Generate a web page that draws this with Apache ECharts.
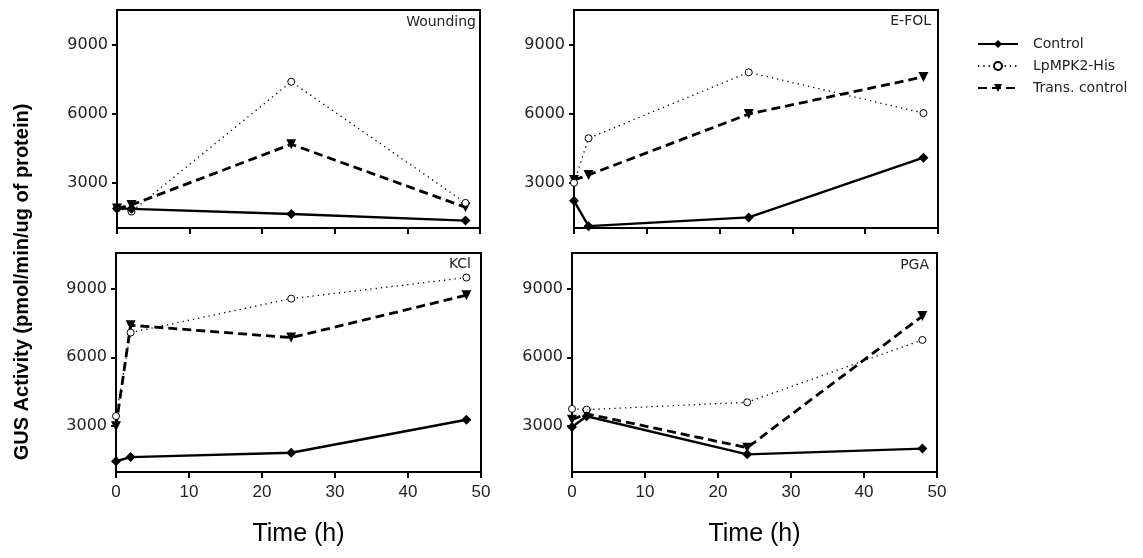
<!DOCTYPE html>
<html>
<head>
<meta charset="utf-8">
<script src="https://cdn.jsdelivr.net/npm/echarts@6/dist/echarts.min.js"></script>
<style>html,body{margin:0;padding:0;background:#fff}#c{width:1143px;height:558px}</style>
</head>
<body>
<div id="c"></div>
<script>
// ---- data ----
const hours = [0, 2, 24, 48];
const seriesNames = ['Control', 'LpMPK2-His', 'Trans. control'];
const panelTitles = ['Wounding', 'E-FOL', 'KCl', 'PGA'];
const xTicks = [0, 10, 20, 30, 40, 50];
const yTicks = [3000, 6000, 9000];

const woundControl = [1900, 1880, 1660, 1370];
const woundLpMPK2  = [1900, 1760, 7390, 2140];
const woundTrans   = [1900, 2050, 4680, 1950];

const efolControl = [2230, 1130, 1510, 4100];
const efolLpMPK2  = [3010, 4940, 7800, 6030];
const efolTrans   = [3130, 3350, 5990, 7600];

const kclControl = [1470, 1650, 1840, 3280];
const kclLpMPK2  = [3440, 7080, 8560, 9480];
const kclTrans   = [2990, 7400, 6860, 8710];

const pgaControl = [2960, 3430, 1770, 2020];
const pgaLpMPK2  = [3750, 3720, 4040, 6760];
const pgaTrans   = [3280, 3540, 2060, 7800];

const panels = [
  [woundControl, woundLpMPK2, woundTrans],
  [efolControl, efolLpMPK2, efolTrans],
  [kclControl, kclLpMPK2, kclTrans],
  [pgaControl, pgaLpMPK2, pgaTrans]
];

// ---- layout / style ----
const grids = [
  {left: 117, top: 10, width: 363, height: 218},
  {left: 574, top: 10, width: 364, height: 218},
  {left: 116, top: 253, width: 365, height: 219},
  {left: 572, top: 253, width: 365, height: 219}
];
const yRanges = [[1050, 10500], [1050, 10500], [1000, 10550], [1000, 10550]];
const titlePos = [[476, 22], [931, 21], [471, 264], [929, 265]];

const styles = [
  {symbol: 'diamond', symbolSize: 10, symbolRotate: 0,
   itemStyle: {color: '#000', borderColor: '#000', borderWidth: 0},
   lineStyle: {color: '#000', width: 2.4, type: 'solid'}},
  {symbol: 'circle', symbolSize: 7, symbolRotate: 0,
   itemStyle: {color: '#fff', borderColor: '#000', borderWidth: 1},
   lineStyle: {color: '#000', width: 1.3, type: [1.3, 4]}},
  {symbol: 'triangle', symbolSize: 10, symbolRotate: 180,
   itemStyle: {color: '#000', borderColor: '#000', borderWidth: 0},
   lineStyle: {color: '#000', width: 2.8, type: [9, 5]}}
];

const labelFont = 'DejaVu Sans';
const xAxes = [], yAxes = [], series = [], graphics = [];

grids.forEach((g, i) => {
  const bottomRow = i >= 2;
  xAxes.push({
    type: 'value', gridIndex: i, min: 0, max: 50, interval: 10,
    axisLine: {show: true, lineStyle: {color: '#000', width: 2}},
    axisTick: {show: true, inside: false, length: 6, lineStyle: {color: '#000', width: 2}},
    splitLine: {show: false},
    axisLabel: {show: bottomRow, margin: 12, color: '#222', fontSize: 17,
      fontFamily: 'Liberation Sans Narrow, Liberation Sans, Arial'},
    name: bottomRow ? 'Time (h)' : '', nameLocation: 'middle', nameGap: 50,
    nameTextStyle: {fontSize: 25, color: '#000', fontFamily: 'Liberation Sans Narrow, Liberation Sans, Arial'}
  });
  yAxes.push({
    type: 'value', gridIndex: i, min: yRanges[i][0], max: yRanges[i][1],
    axisLine: {show: true, lineStyle: {color: '#000', width: 2}},
    axisTick: {show: true, length: 5, customValues: yTicks, lineStyle: {color: '#000', width: 2}},
    axisLabel: {show: true, customValues: yTicks, margin: 9, color: '#222', fontSize: 16, fontFamily: labelFont,
      formatter: v => String(v)},
    splitLine: {show: false}
  });
  panels[i].forEach((vals, s) => {
    const st = styles[s];
    series.push({
      name: seriesNames[s], type: 'line', xAxisIndex: i, yAxisIndex: i,
      data: hours.map((h, k) => [h, vals[k]]),
      symbol: st.symbol, symbolSize: st.symbolSize, symbolRotate: st.symbolRotate,
      showSymbol: true, clip: false, animation: false,
      itemStyle: st.itemStyle, lineStyle: st.lineStyle, z: 3 + (2 - s)
    });
  });
  graphics.push({
    type: 'text', x: titlePos[i][0], y: titlePos[i][1],
    style: {text: panelTitles[i], fill: '#222', font: '14px "DejaVu Sans"', textAlign: 'right', textVerticalAlign: 'middle'}
  });
});

graphics.push({
  type: 'text', x: 22, y: 282, rotation: Math.PI / 2,
  style: {text: 'GUS Activity (pmol/min/ug of protein)', fill: '#000',
    font: 'bold 20px "Liberation Sans", Arial', textAlign: 'center', textVerticalAlign: 'middle'}
});

const chart = echarts.init(document.getElementById('c'), null, {renderer: 'canvas'});
chart.setOption({
  animation: false,
  backgroundColor: '#fff',
  grid: grids.map(g => Object.assign({show: true, borderColor: '#000', borderWidth: 2, backgroundColor: 'transparent'}, g)),
  xAxis: xAxes,
  yAxis: yAxes,
  legend: {
    data: seriesNames, orient: 'vertical', left: 972, top: 32,
    itemWidth: 40, itemHeight: 10, itemGap: 8,
    textStyle: {fontSize: 14, color: '#222', fontFamily: labelFont, padding: [0, 0, 0, 10]},
    selectedMode: false
  },
  series: series,
  graphic: graphics
});
</script>
</body>
</html>
